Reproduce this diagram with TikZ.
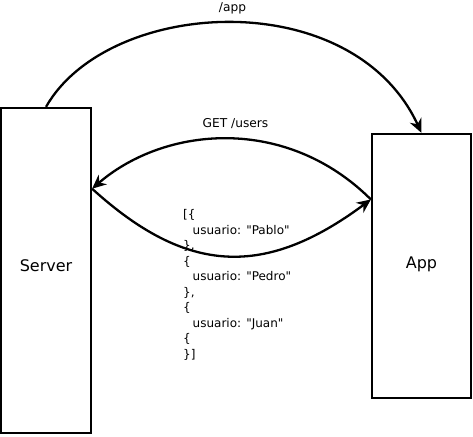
\documentclass[tikz,border=0pt]{standalone}
\usepackage{fontspec}
\setmainfont{DejaVu Sans}
\usetikzlibrary{arrows.meta,calc}

\tikzset{
  box/.style={draw=black, line width=2.2pt, fill=white, inner sep=0pt},
  flow/.style={draw=black, line width=2.3pt,
    -{Stealth[length=14pt,width=12.5pt,inset=4.5pt]}},
  boxlabel/.style={font=\fontsize{16}{19}\selectfont, inner sep=0pt},
  msg/.style={font=\fontsize{12.2}{14}\selectfont, inner sep=0pt, anchor=base},
  payload/.style={font=\fontsize{12}{15.5}\selectfont, inner sep=0pt,
    align=left, anchor=north west}
}
\newcommand{\q}{\textquotedbl}

\begin{document}
\begin{tikzpicture}[x=1pt,y=-1pt]
  \useasboundingbox[fill=white] (0,0) rectangle (473,436);

  % the two components
  \node[box, minimum width=90pt, minimum height=325pt] (server) at (46,270.5) {};
  \node[box, minimum width=99pt, minimum height=264pt] (app) at (421.5,266) {};
  \node[boxlabel] (servertext) at (46,265.5) {Server};
  \node[boxlabel] (apptext) at (421.5,264) {App};

  % attachment points on the facing sides
  \coordinate (serverE) at ($(server.north east)!0.25!(server.south east)$);
  \coordinate (appW) at ($(app.north west)!0.25!(app.south west)$);

  % requests and response
  \draw[flow] (server.north) .. controls (108,-2) and (352,-17) .. (app.north);
  \draw[flow] (appW) .. controls (286,115) and (165,126) .. (serverE);
  \draw[flow] (serverE) .. controls (187,275) and (265,278) .. (appW);

  % labels
  \node[msg] (applabel) at (232.5,11.7) {/app};
  \node[msg] (getlabel) at (235.5,127.7) {GET /users};
  \node[payload] (json) at (183,209.5) {%
    [\{\\
    \hspace*{9.5pt}usuario: \q Pablo\q\\
    \},\\
    \{\\
    \hspace*{9.5pt}usuario: \q Pedro\q\\
    \},\\
    \{\\
    \hspace*{9.5pt}usuario: \q Juan\q\\
    \{\\
    \}]};
\end{tikzpicture}
\end{document}
